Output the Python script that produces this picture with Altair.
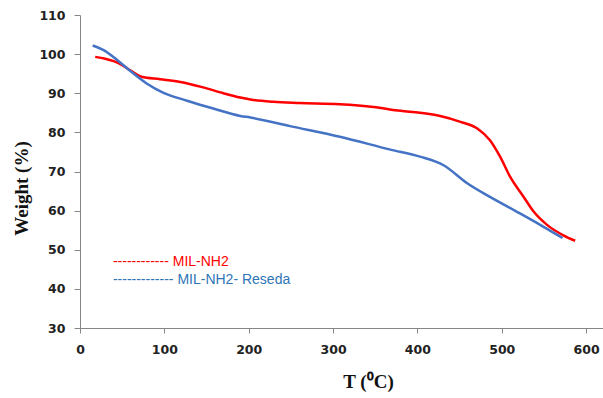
import altair as alt
import pandas as pd

# MIL-NH2 (red)
red_T = [18, 30, 40, 50, 60, 73, 95, 119, 146, 170, 190, 202, 229, 260, 308, 348, 380, 403, 427, 451, 471, 486, 498, 510, 526, 538, 554, 573, 587]
red_W = [99.3, 98.8, 98.2, 97.2, 95.8, 94.2, 93.6, 92.9, 91.5, 90.0, 88.9, 88.4, 87.8, 87.5, 87.2, 86.5, 85.5, 85.0, 84.2, 82.7, 81.0, 78.0, 73.8, 68.6, 63.5, 59.7, 56.3, 53.7, 52.3]

# MIL-NH2- Reseda (blue)
blue_T = [15, 28, 44, 59, 79, 99, 127, 158, 190, 202, 249, 308, 368, 403, 431, 459, 486, 518, 546, 572]
blue_W = [102.2, 101.0, 98.5, 95.8, 92.5, 90.1, 88.1, 86.1, 84.2, 83.8, 81.6, 78.9, 75.6, 73.8, 71.6, 67.0, 63.5, 59.7, 56.3, 53.0]

series_names = ["MIL-NH2", "MIL-NH2- Reseda"]
legend_texts = ["------------ MIL-NH2", "------------- MIL-NH2- Reseda"]
legend_T = [39, 39]
legend_W = [46.8, 42.2]
colors = ["#FF0000", "#4472C4"]
text_colors = ["#FF0000", "#2E75B6"]

x_ticks = [0, 100, 200, 300, 400, 500, 600]
y_ticks = [30, 40, 50, 60, 70, 80, 90, 100, 110]

df = pd.concat([
    pd.DataFrame({"T": red_T, "W": red_W, "s": series_names[0]}),
    pd.DataFrame({"T": blue_T, "W": blue_W, "s": series_names[1]}),
])
leg = pd.DataFrame({"T": legend_T, "W": legend_W, "label": legend_texts, "s": series_names})

xs = alt.Scale(domain=[0, 620], nice=False, zero=False)
ys = alt.Scale(domain=[30, 110], nice=False, zero=False)

x_axis = alt.Axis(
    values=x_ticks, tickCount=7, title="T (⁰C)", grid=False, labelOverlap=False, labelFlush=False,
    domainColor="#868686", tickColor="#868686", tickSize=5,
    labelFont="DejaVu Sans", labelFontWeight="bold", labelFontSize=12.5,
    labelColor="#222222", labelPadding=10,
    titleFont="Liberation Serif", titleFontWeight="bold", titleFontSize=19,
    titleColor="#111111", titleX=288, titleY=44, titleBaseline="top",
    titleAlign="center", titleAnchor="start")
y_axis = alt.Axis(
    values=y_ticks, tickCount=9, title="Weight (%)", grid=False, labelOverlap=False, labelFlush=False,
    domainColor="#868686", tickColor="#868686", tickSize=6,
    labelFont="DejaVu Sans", labelFontWeight="bold", labelFontSize=12.5,
    labelColor="#222222", labelPadding=9,
    titleFont="Liberation Serif", titleFontWeight="bold", titleFontSize=19,
    titleColor="#111111", titleX=-59, titleY=173, titleBaseline="middle",
    titleAlign="center", titleAngle=-90, titleAnchor="start")

lines = alt.Chart(df).mark_line(strokeWidth=2.5, interpolate="monotone").encode(
    x=alt.X("T:Q", scale=xs, axis=x_axis),
    y=alt.Y("W:Q", scale=ys, axis=y_axis),
    color=alt.Color("s:N", scale=alt.Scale(domain=series_names, range=colors), legend=None),
    detail="s:N",
)

labels = alt.Chart(leg).mark_text(align="left", baseline="middle", font="Liberation Sans", fontSize=14).encode(
    x=alt.X("T:Q", scale=xs, axis=x_axis),
    y=alt.Y("W:Q", scale=ys, axis=y_axis),
    text="label:N",
    color=alt.Color("s:N", scale=alt.Scale(domain=series_names, range=text_colors), legend=None),
)

chart = alt.layer(lines, labels).resolve_scale(color="independent").properties(
    width=523, height=313,
    autosize=alt.AutoSizeParams(type="none"),
    padding={"left": 80, "top": 15, "right": 0, "bottom": 70},
    background="white",
).configure_view(stroke=None)

chart.save("out.html", embed_options={"renderer": "svg", "actions": False})
